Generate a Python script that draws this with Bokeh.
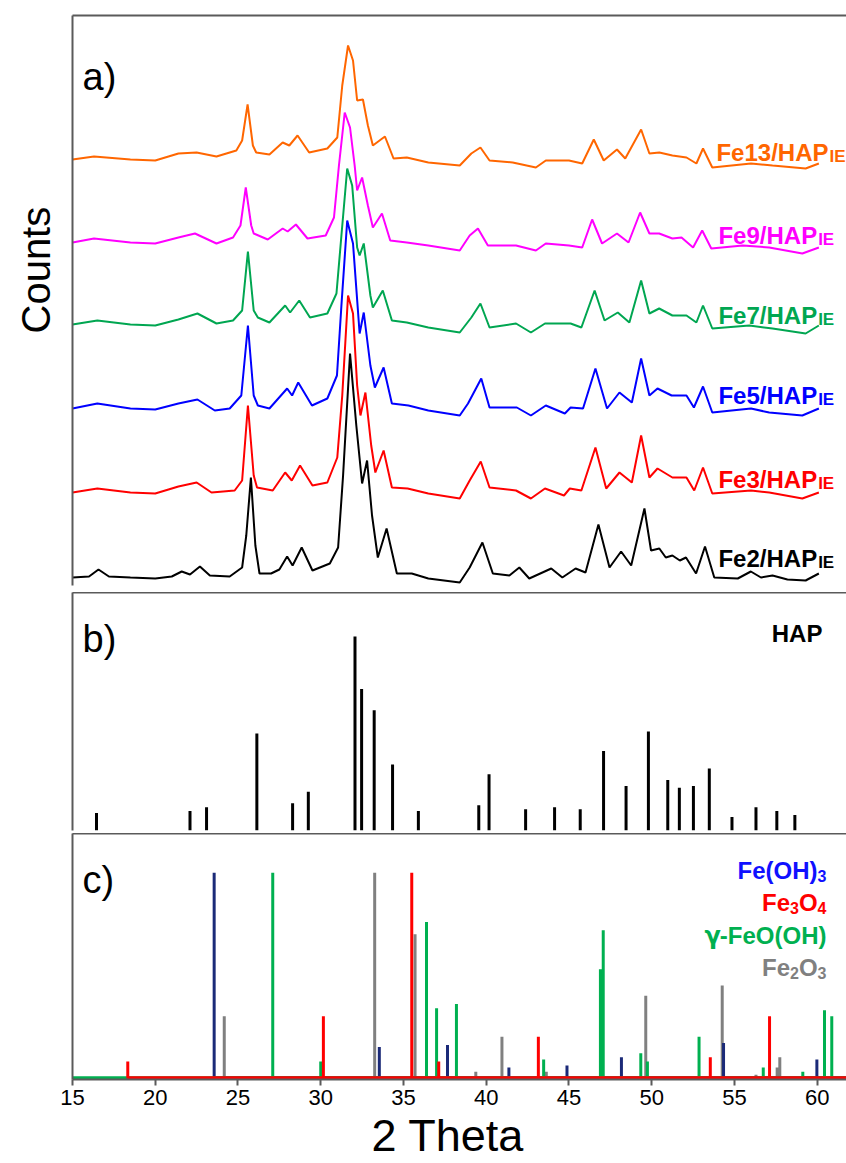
import math
from bokeh.plotting import figure
from bokeh.models import Label, LinearAxis, FixedTicker, Range1d, Title
from bokeh.layouts import column
from bokeh.embed import file_html
from bokeh.resources import INLINE

# ---------------- data ----------------
# a) XRD patterns (2theta, stacked counts)
fe2_x = [15.0, 16.0, 16.57, 17.2, 18.5, 20.0, 21.0, 21.6, 22.1, 22.7, 23.3, 24.5, 25.25, 25.5, 25.78, 26.05, 26.3, 27.0, 27.5, 27.97, 28.3, 28.85, 29.5, 30.55, 31.05, 31.35, 31.77, 32.15, 32.5, 32.8, 33.1, 33.45, 33.98, 34.6, 35.5, 36.5, 38.4, 39.0, 39.77, 40.4, 41.4, 42.0, 42.6, 43.93, 44.6, 45.4, 46.0, 46.78, 47.45, 48.15, 48.76, 49.56, 49.96, 50.46, 50.85, 51.25, 51.7, 52.07, 52.68, 53.22, 53.78, 55.2, 55.99, 56.6, 57.3, 58.2, 59.3, 60.1]
fe2_y = [8, 9, 16, 9, 8, 7, 9, 14, 11, 19, 10, 9, 18, 50, 108, 40, 12, 12, 16, 29, 20, 38, 15, 22, 38, 110, 232, 160, 102, 125, 70, 28, 57, 12, 12, 7, 3, 18, 43, 12, 10, 18, 7, 17, 8, 17, 13, 61, 18, 34, 20, 77, 35, 37, 28, 30, 25, 28, 12, 39, 8, 7, 14, 8, 10, 6, 5, 12]

fe3_x = [15.0, 16.5, 18.5, 20.0, 21.4, 22.5, 23.4, 24.8, 25.25, 25.6, 25.95, 26.15, 27.1, 27.85, 28.25, 28.75, 29.5, 30.4, 31.0, 31.3, 31.65, 31.95, 32.2, 32.4, 32.7, 33.05, 33.3, 33.8, 34.3, 35.25, 36.5, 38.4, 39.0, 39.67, 40.2, 41.8, 42.7, 43.55, 44.7, 45.05, 45.75, 46.6, 47.25, 48.05, 48.8, 49.36, 49.86, 50.35, 51.25, 52.1, 52.57, 53.1, 53.66, 56.0, 57.1, 59.1, 60.1]
fe3_y = [93, 97, 93, 92, 99, 103, 93, 95, 105, 180, 110, 98, 95, 113, 105, 120, 100, 103, 128, 190, 290, 272, 200, 170, 193, 140, 113, 135, 98, 97, 92, 87, 105, 124, 98, 95, 87, 97, 90, 97, 95, 138, 97, 113, 103, 150, 108, 117, 108, 108, 95, 118, 92, 95, 93, 87, 93]

fe5_x = [15.0, 16.5, 18.5, 20.0, 21.4, 22.55, 23.6, 24.5, 25.2, 25.6, 25.95, 26.2, 26.9, 27.97, 28.27, 28.64, 29.47, 30.4, 30.98, 31.25, 31.6, 31.95, 32.35, 32.6, 33.0, 33.27, 33.8, 34.3, 35.3, 36.5, 38.4, 38.9, 39.7, 40.2, 41.85, 42.7, 43.6, 44.75, 45.1, 45.85, 46.6, 47.3, 48.05, 48.8, 49.36, 49.86, 50.35, 51.2, 52.1, 52.55, 53.1, 53.66, 56.0, 57.1, 59.1, 60.1]
fe5_y = [177, 182, 177, 176, 182, 186, 175, 177, 190, 260, 190, 180, 177, 197, 190, 203, 180, 187, 210, 280, 365, 342, 252, 273, 220, 198, 218, 182, 180, 175, 170, 182, 207, 178, 178, 170, 180, 172, 178, 177, 217, 177, 193, 183, 227, 190, 197, 190, 190, 178, 199, 173, 177, 173, 170, 177]

fe7_x = [15.0, 16.5, 18.5, 20.0, 21.4, 22.55, 23.7, 24.7, 25.25, 25.6, 25.95, 26.2, 26.9, 27.85, 28.15, 28.7, 29.35, 30.4, 30.95, 31.25, 31.6, 31.9, 32.2, 32.35, 32.6, 33.0, 33.15, 33.75, 34.3, 35.2, 36.5, 38.4, 39.1, 39.65, 40.2, 41.8, 42.7, 43.55, 45.1, 45.75, 46.55, 47.15, 47.95, 48.65, 49.36, 49.86, 50.45, 51.25, 52.1, 52.7, 53.1, 53.66, 55.9, 57.3, 59.3, 60.1]
fe7_y = [261, 265, 261, 260, 266, 272, 262, 265, 275, 334, 275, 268, 263, 280, 273, 285, 268, 272, 292, 350, 417, 400, 338, 330, 342, 290, 278, 295, 265, 263, 258, 253, 268, 282, 258, 262, 253, 262, 262, 258, 295, 265, 273, 263, 305, 272, 277, 270, 270, 263, 280, 257, 260, 257, 252, 260]

fe9_x = [15.0, 16.3, 18.5, 20.0, 21.4, 22.4, 23.7, 24.7, 25.15, 25.47, 25.8, 25.95, 26.8, 27.7, 28.0, 28.5, 29.2, 30.3, 30.8, 31.1, 31.45, 31.77, 32.05, 32.2, 32.5, 32.85, 33.15, 33.7, 34.2, 35.2, 36.5, 38.4, 39.0, 39.5, 40.1, 41.8, 43.0, 43.6, 45.0, 45.8, 46.4, 47.0, 47.9, 48.6, 49.3, 49.86, 50.45, 51.25, 51.8, 52.5, 53.05, 53.6, 55.5, 57.1, 59.1, 60.1]
fe9_y = [343, 347, 343, 342, 348, 352, 342, 348, 360, 398, 360, 352, 346, 357, 354, 361, 347, 350, 368, 420, 473, 458, 420, 395, 408, 380, 358, 372, 345, 343, 340, 335, 350, 357, 340, 340, 335, 342, 340, 338, 366, 342, 352, 343, 373, 352, 352, 347, 348, 338, 355, 337, 340, 338, 332, 338]

fe13_x = [15.0, 16.3, 18.5, 20.0, 21.4, 22.5, 23.7, 24.9, 25.25, 25.58, 25.9, 26.1, 26.9, 27.7, 28.1, 28.6, 29.3, 30.4, 31.0, 31.3, 31.65, 31.95, 32.2, 32.55, 32.85, 33.15, 33.88, 34.4, 35.2, 36.5, 38.4, 39.1, 39.65, 40.2, 41.6, 43.0, 43.6, 45.0, 45.8, 46.5, 47.1, 47.9, 48.4, 49.36, 49.86, 50.46, 51.25, 52.1, 52.7, 53.1, 53.66, 56.0, 57.3, 59.3, 60.1]
fe13_y = [426, 429, 426, 425, 432, 433, 429, 435, 445, 481, 440, 433, 431, 443, 440, 450, 433, 437, 448, 500, 540, 525, 485, 486, 460, 440, 449, 427, 428, 423, 420, 432, 438, 425, 423, 418, 425, 425, 422, 446, 425, 436, 427, 456, 432, 433, 430, 428, 422, 437, 418, 422, 420, 417, 422]

sample_names = ["Fe2/HAP", "Fe3/HAP", "Fe5/HAP", "Fe7/HAP", "Fe9/HAP", "Fe13/HAP"]
sample_colors = ["#000000", "#FF0000", "#0000FF", "#00A651", "#FF00FF", "#FF6600"]

# b) HAP reference pattern (relative intensity)
hap_pos = [16.45, 22.1, 23.1, 26.14, 28.3, 29.25, 32.07, 32.47, 33.23, 34.34, 35.9, 39.55, 40.17, 42.38, 44.13, 45.68, 47.09, 48.45, 49.8, 50.97, 51.67, 52.52, 53.48, 54.85, 56.3, 57.56, 58.65]
hap_int = [9, 10, 12, 50, 14, 20, 100, 73, 62, 34, 10, 13, 29, 11, 12, 11, 41, 23, 51, 26, 22, 23, 32, 7, 12, 10, 8]

# c) Fe phase reference patterns (relative intensity)
feoh3_pos = [23.56, 33.54, 37.66, 41.37, 44.88, 48.17, 54.34, 59.98]
feoh3_int = [100, 15, 16, 5, 6, 10, 17, 9]
fe3o4_pos = [18.34, 30.16, 35.5, 37.13, 43.15, 53.54, 57.12]
fe3o4_int = [8, 30, 100, 8, 20, 10, 30]
feooh_pos = [27.1, 30.0, 36.39, 37.0, 38.2, 43.47, 46.9, 47.07, 49.34, 49.74, 52.86, 56.74, 59.13, 60.44, 60.88]
feooh_int = [100, 8, 76, 34, 36, 9, 53, 72, 12, 8, 20, 5, 3, 33, 30]
fe2o3_pos = [24.17, 33.26, 35.7, 39.37, 40.95, 43.63, 49.64, 54.26, 56.3, 57.58, 57.74]
fe2o3_int = [30, 100, 70, 3, 20, 3, 40, 45, 1.5, 5, 10]

x_ticks = [15, 20, 25, 30, 35, 40, 45, 50, 55, 60]

# ---------------- layout helpers ----------------
FONT = "Liberation Sans"
AXC = "#5a5a5a"
X0, X1 = 15.0, 61.77
PXD = 16.55          # px per degree
LEFT = 72            # frame left in page px

W_BOLD = {'F': 611, 'e': 556, '(': 333, ')': 333, 'O': 778, 'H': 722, '-': 333,
          'γ': 640, 'A': 722, 'P': 667, '/': 278, 'I': 278, 'E': 667}
for d in "0123456789":
    W_BOLD[d] = 556


def tw(s, size):
    return sum(W_BOLD.get(c, 556) for c in s) * size / 1000.0


def xd(px):
    return X0 + (px - LEFT) / PXD


def blank_axis(p, side):
    ax = LinearAxis(ticker=FixedTicker(ticks=[]), axis_line_color=AXC, axis_line_width=2,
                    major_tick_line_color=None, minor_tick_line_color=None,
                    major_tick_out=0, major_tick_in=0, major_label_standoff=0,
                    major_label_text_font_size="0px")
    p.add_layout(ax, side)
    return ax


def make_fig(h, y0, y1, top, bottom):
    p = figure(width=846, height=h, x_range=Range1d(X0, X1), y_range=Range1d(y0, y1),
               output_backend="svg", toolbar_location=None,
               x_axis_location=None, y_axis_location=None,
               min_border_left=72, min_border_right=0,
               min_border_top=top, min_border_bottom=bottom,
               outline_line_color=None, background_fill_color="white")
    p.grid.visible = False
    return p


# ---------------- panel a ----------------
# frame 15..585 page px ; value = 585 - px
pa = make_fig(592, 0, 570, 15, 7)
blank_axis(pa, "left")
blank_axis(pa, "above")
pa.add_layout(Title(text="Counts", align="left", offset=252, standoff=26, vertical_align="top",
                    text_font=FONT, text_font_size="40px", text_font_style="normal",
                    text_color="black"), "left")


def ya(px):
    return 585 - px


series = [(fe2_x, fe2_y), (fe3_x, fe3_y), (fe5_x, fe5_y), (fe7_x, fe7_y), (fe9_x, fe9_y), (fe13_x, fe13_y)]
for (sx, sy), col in zip(series, sample_colors):
    pa.line(sx, sy, line_color=col, line_width=2)

label_base_px = [558, 479, 395, 315, 235, 152]
label_left_px = [718, 718, 718, 718, 718, 716]
for name, col, bpx, lpx in zip(sample_names, sample_colors, label_base_px, label_left_px):
    pa.add_layout(Label(x=xd(lpx), y=ya(bpx), text=name, text_color=col, text_font=FONT,
                        text_font_size="24px", text_font_style="bold", text_align="left",
                        text_baseline="alphabetic"))
    pa.add_layout(Label(x=xd(lpx + tw(name, 24) + 1), y=ya(bpx + 4), text="IE", text_color=col,
                        text_font=FONT, text_font_size="17px", text_font_style="bold",
                        text_align="left", text_baseline="alphabetic"))

pa.add_layout(Label(x=xd(82), y=ya(76), text="a)", text_font=FONT, text_font_size="38px",
                    text_color="black", text_baseline="alphabetic"))

# ---------------- panel b ----------------
# frame 592..830 page px ; 194 px = 100
B_SCALE = 100.0 / 194.0
pb = make_fig(241, 0, 238 * B_SCALE, 0, 3)
blank_axis(pb, "left")
blank_axis(pb, "above")


def yb(px):
    return (830 - px) * B_SCALE


pb.segment(x0=hap_pos, y0=[0] * len(hap_pos), x1=hap_pos, y1=hap_int,
           line_color="black", line_width=3)
pb.add_layout(Label(x=xd(82), y=yb(638), text="b)", text_font=FONT, text_font_size="38px",
                    text_color="black", text_baseline="alphabetic"))
pb.add_layout(Label(x=xd(822), y=yb(633), text="HAP", text_font=FONT, text_font_size="24px",
                    text_font_style="bold", text_color="black", text_align="right",
                    text_baseline="alphabetic"))

# ---------------- panel c ----------------
# frame 833..1079 page px ; 205 px = 100
C_SCALE = 100.0 / 205.0
C_Y0 = -0.8
pc = make_fig(330, C_Y0, C_Y0 + 246 * C_SCALE, 0, 84)
blank_axis(pc, "left")
blank_axis(pc, "above")
xax = LinearAxis(ticker=FixedTicker(ticks=x_ticks), axis_line_color=AXC, axis_line_width=2,
                 major_tick_line_color=AXC, major_tick_line_width=2, major_tick_in=0,
                 major_tick_out=6, minor_tick_line_color=None,
                 major_label_text_font=FONT, major_label_text_font_size="22px",
                 major_label_text_color="black", major_label_standoff=4)
pc.add_layout(xax, "below")
pc.add_layout(Title(text="2 Theta", align="left", offset=299, standoff=0,
                    text_font=FONT, text_font_size="45px", text_font_style="normal",
                    text_color="black"), "below")


def yc(px):
    return (1079 - px) * C_SCALE + C_Y0


def stick_path(pos, inten, start, end):
    xs, ys = [start], [0]
    for x, v in zip(pos, inten):
        xs += [x, x, x]
        ys += [0, v, 0]
    xs.append(end)
    ys.append(0)
    return xs, ys


phases = [
    (fe2o3_pos, fe2o3_int, "#808080", fe2o3_pos[0]),
    (feoh3_pos, feoh3_int, "#1B2A78", feoh3_pos[0]),
    (feooh_pos, feooh_int, "#00B050", X0),
    (fe3o4_pos, fe3o4_int, "#FF0000", fe3o4_pos[0]),
]
for pos, inten, col, start in phases:
    xs, ys = stick_path(pos, inten, start, X1)
    pc.line(xs, ys, line_color=col, line_width=3)

pc.add_layout(Label(x=xd(82), y=yc(879), text="c)", text_font=FONT, text_font_size="38px",
                    text_color="black", text_baseline="alphabetic"))

RIGHT = 826
legend_lines = [
    ([("Fe(OH)", False, FONT), ("3", True, FONT)], "#1010FF", 870),
    ([("Fe", False, FONT), ("3", True, FONT), ("O", False, FONT), ("4", True, FONT)], "#FF0000", 902),
    ([("γ", False, "DejaVu Sans"), ("-FeO(OH)", False, FONT)], "#00B050", 935),
    ([("Fe", False, FONT), ("2", True, FONT), ("O", False, FONT), ("3", True, FONT)], "#808080", 967),
]
for pieces, col, bpx in legend_lines:
    total = sum(tw(t, 16 if sub else 24) for t, sub, f in pieces)
    cur = RIGHT - total
    for t, sub, f in pieces:
        size = 16 if sub else 24
        pc.add_layout(Label(x=xd(cur), y=yc(bpx + (5 if sub else 0)), text=t, text_color=col,
                            text_font=f, text_font_size=f"{size}px", text_font_style="bold",
                            text_align="left", text_baseline="alphabetic"))
        cur += tw(t, size)

layout = column(pa, pb, pc, spacing=0)
open("out.html", "w").write(file_html(layout, INLINE))
